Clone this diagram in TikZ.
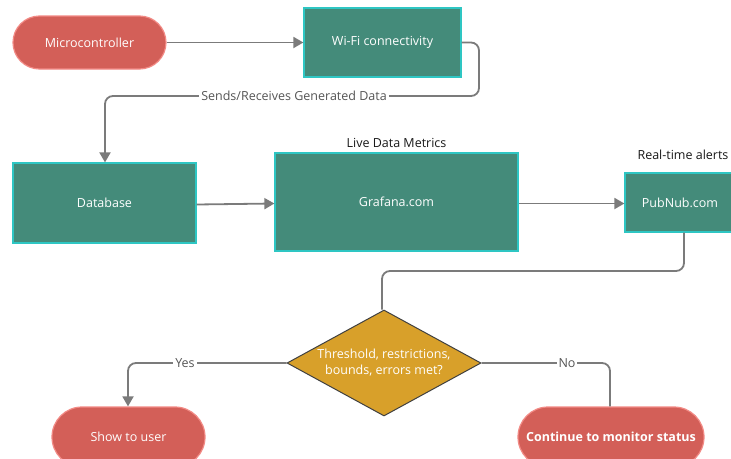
\documentclass[tikz,border=0pt]{standalone}
\usepackage{fontspec}
\setmainfont{Open Sans}
\usetikzlibrary{shapes.geometric,shapes.misc,arrows.meta}
\definecolor{redfill}{HTML}{D35F58}
\definecolor{redline}{HTML}{F28A85}
\definecolor{tealfill}{HTML}{448B7A}
\definecolor{tealline}{HTML}{2EC6C3}
\definecolor{goldfill}{HTML}{D8A02A}
\definecolor{linegray}{HTML}{7B7B7B}
\definecolor{labgray}{HTML}{555555}
\tikzset{
  pill/.style={draw=redline, line width=1.2pt, fill=redfill, rounded rectangle, text=white, font=\fontsize{12.5}{14}\selectfont, inner sep=0pt},
  tealbox/.style={draw=tealline, line width=1.2pt, fill=tealfill, text=white, font=\fontsize{12.5}{14}\selectfont, inner sep=0pt},
  decision/.style={draw=black!75, line width=1pt, fill=goldfill, diamond, text=white, font=\fontsize{12.5}{16}\selectfont, align=center, inner sep=0pt},
  conn/.style={draw=linegray, line width=1.8pt, rounded corners=8pt},
  arr/.style={conn, -{Triangle[length=10pt,width=11pt]}},
  lab/.style={fill=white, text=labgray, font=\fontsize{12.5}{14}\selectfont, inner sep=2pt},
  title/.style={text=black!90, font=\fontsize{12.5}{14}\selectfont}
}
\begin{document}
\begin{tikzpicture}[x=1pt,y=-1pt]
\useasboundingbox (0,0) rectangle (731,458);
\clip (0,0) rectangle (731,458);
\fill[white] (0,0) rectangle (731,458);
\node[pill, minimum width=153pt, minimum height=53pt] (mc) at (89.5,42.5) {Microcontroller};
\node[tealbox, minimum width=157pt, minimum height=69pt] (wifi) at (382.5,42.5) {Wi-Fi connectivity};
\node[tealbox, minimum width=183pt, minimum height=80pt] (db) at (104.5,203) {Database};
\node[tealbox, minimum width=243pt, minimum height=98pt] (graf) at (396.5,202) {Grafana.com};
\node[title] (live) at (396.5,143) {Live Data Metrics};
\node[tealbox, minimum width=110pt, minimum height=59pt] (pub) at (680,202.5) {PubNub.com};
\node[title] (rt) at (683,155) {Real-time alerts};
\node[decision, minimum width=194pt, minimum height=106pt, aspect=1.83] (dec) at (384,363) {Threshold, restrictions,\\bounds, errors met?};
\node[pill, minimum width=153pt, minimum height=60pt] (show) at (128.5,437) {Show to user};
\node[pill, minimum width=186pt, minimum height=60pt, font=\bfseries\fontsize{12.5}{14}\selectfont] (cont) at (611,437) {Continue to monitor status};
\coordinate (c1) at (479,42.5);
\coordinate (c2) at (479,96);
\coordinate (c3) at (105,96);
\coordinate (c4) at (684,271);
\coordinate (c5) at (382,271);
\coordinate (c6) at (128,363);
\coordinate (c7) at (610,363);
\draw[arr] (mc.east) -- (wifi.west);
\draw[arr] (wifi.east) -- (c1) -- (c2) -- (c3) -- (db.north -| c3);
\node[lab] (sends) at (294,96) {Sends/Receives Generated Data};
\draw[arr] (db.east |- 0,204.5) -- (graf.west |- 0,203.5);
\draw[arr] (graf.east |- 0,203.5) -- (pub.west |- 0,203.5);
\draw[conn] (pub.south -| c4) -- (c4) -- (c5) -- (dec.north -| c5);
\draw[arr] (dec.west) -- (c6) -- (show.north -| c6);
\node[lab] (yes) at (185,363) {Yes};
\draw[conn] (dec.east) -- (c7) -- (cont.north -| c7);
\node[lab] (no) at (567,363) {No};
\end{tikzpicture}
\end{document}
